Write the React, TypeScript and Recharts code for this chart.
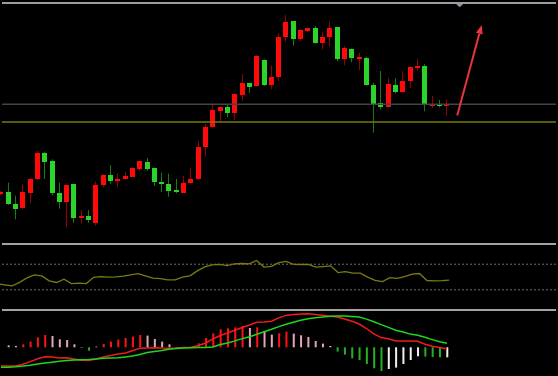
import React from 'react';
import { ComposedChart, Bar, Line, XAxis, YAxis, ReferenceLine, ReferenceDot, Cell } from 'recharts';

// ---------- data ----------
const N_SLOTS = 77;

const opens = [3049.3, 3051, 3039.3, 3035, 3050, 3064.3, 3090, 3081.7, 3049.7, 3040.7, 3058.7, 3025.7, 3027, 3020, 3057.7, 3068, 3062, 3064, 3066.3, 3074.3, 3081.3, 3075, 3061.3, 3058.7, 3053, 3050.3, 3060, 3063.7, 3095.7, 3116, 3132, 3135.7, 3130.3, 3148.3, 3159.7, 3156.7, 3183, 3157.7, 3166, 3206, 3221.7, 3204, 3212.3, 3215, 3200.3, 3206, 3215.7, 3183.7, 3194.3, 3184.3, 3185.3, 3157.7, 3140.3, 3136, 3158.3, 3150.7, 3161.7, 3175.3, 3177, 3138.3, 3139, 3137];
const closes = [3051.3, 3038.7, 3034.3, 3050.7, 3064.3, 3089.7, 3081.3, 3049.7, 3041.3, 3058, 3025.3, 3027, 3023, 3058, 3068, 3061.7, 3064.3, 3066.7, 3075.3, 3081.7, 3074.3, 3060.7, 3059, 3052, 3050.7, 3060.3, 3064, 3096, 3116, 3133, 3136, 3130.3, 3149.3, 3159.7, 3156.3, 3187, 3158, 3165.7, 3206.3, 3221, 3204.3, 3212.7, 3215.3, 3200.3, 3206.3, 3215.3, 3183.7, 3194.7, 3185, 3185.7, 3157.7, 3139, 3135.7, 3159, 3150.7, 3162, 3176.3, 3177, 3137.7, 3139.3, 3137, 3139];
const highs = [3052, 3060.3, 3047.3, 3058, 3064.7, 3092, 3091, 3083.7, 3060.3, 3058.5, 3059, 3033, 3033, 3061.3, 3068.5, 3077.7, 3069.7, 3071, 3075.7, 3082, 3085, 3075.5, 3070.3, 3069.3, 3064.3, 3067, 3074.7, 3102, 3119, 3139.7, 3136.5, 3139, 3149.7, 3169, 3160, 3188, 3183.5, 3177.3, 3209.7, 3228, 3222, 3213, 3215.7, 3217, 3210.7, 3221.3, 3216, 3197, 3194.7, 3190.3, 3186.3, 3160.3, 3172, 3165, 3164.7, 3172, 3176.7, 3184, 3178.7, 3147, 3143, 3143.7];
const lows = [3048, 3038, 3023.7, 3034.5, 3039.7, 3063, 3064, 3047.7, 3034.3, 3015.7, 3020.3, 3019.3, 3020.3, 3017.3, 3056, 3059.3, 3056, 3063.5, 3066, 3072.3, 3072.3, 3057.3, 3051, 3046.3, 3049.7, 3050, 3059.5, 3063.5, 3086.3, 3115.5, 3121, 3125.7, 3123, 3142.3, 3150.3, 3156.3, 3157, 3153.7, 3162, 3201.3, 3197.3, 3201.7, 3210.7, 3199.3, 3193.7, 3196.3, 3181.7, 3177.7, 3180.7, 3173, 3157.3, 3110.3, 3133.7, 3135.5, 3149.7, 3150.3, 3155, 3172, 3131.7, 3134.7, 3135.7, 3127.3];

const levelGray = 3138.8;
const levelOlive = 3121;
const arrowFrom = { x: 62.41, y: 3127.5 };
const arrowTo = { x: 65.75, y: 3218 };
const markerPos = { x: 62.74, y: 3238 };

const rsi = [39.3, 37.8, 36.2, 41.7, 48.7, 53.3, 51.8, 44.0, 41.4, 46.7, 39.8, 40.4, 39.8, 49.5, 50.7, 49.8, 50.2, 51.5, 53.3, 55.4, 51.8, 48.2, 47.6, 45.6, 45.6, 49.8, 51.8, 59.6, 65.8, 68.9, 69.7, 67.7, 70.5, 71.1, 70.5, 75.9, 65.5, 66.6, 72.5, 74.4, 69.7, 69.5, 69.7, 65.3, 66.3, 67.4, 56.9, 58.5, 56.0, 56.0, 49.8, 44.8, 42.8, 49.0, 47.9, 50.7, 54.4, 55.4, 44.5, 44.0, 44.3, 45.1];
const rsiLevels = [70, 30];

const dif = [-18.7, -18.7, -18.7, -16.9, -14.3, -11.4, -9.4, -9.7, -10.7, -10.4, -11.8, -12.9, -13.2, -11.7, -9.7, -8.2, -6.7, -5.6, -3.4, -1, -0.7, -0.4, -0.8, -0.9, -0.7, -0.3, 0, 1.8, 4.3, 8.4, 11.8, 14.3, 17.1, 19.8, 22.3, 25, 25.3, 26.1, 29.4, 31.9, 32.9, 33.3, 33.5, 32.9, 32, 31.1, 30.3, 28.3, 26, 23.3, 18.8, 13.5, 9.7, 8.5, 6.4, 6.3, 6.3, 6, 3.1, 1.1, -0.3, -1.4];
const dea = [-20, -19.9, -19.5, -18.8, -17.9, -16.7, -15.8, -14.9, -14, -13.2, -12.8, -12.4, -12.2, -11.6, -11, -10.7, -10.4, -9.6, -8.7, -7.2, -5.3, -4.1, -3.1, -1.9, -1.3, -0.6, -0.5, -0.3, -0.1, 0.4, 2.8, 4.4, 6.4, 8.7, 10.5, 13, 15.5, 18, 20.7, 23.1, 25.1, 27, 28.5, 29.5, 30.4, 31.1, 31.3, 31.3, 30.8, 30.3, 28.2, 25.6, 22.7, 19.9, 17.1, 15.2, 13.2, 12.1, 10, 7.7, 5.5, 4];
const hist = [null, 2, 1.3, 3, 5.7, 10, 12.3, 11.3, 8, 7.3, 3, -0.7, -3.3, 0.7, 3.3, 5.7, 7.7, 9.3, 10.7, 12.3, 11.7, 8.3, 5.7, 3, -0.6, -0.6, -0.6, 4, 9.3, 14, 18, 19, 20, 21.3, 19.3, 20, 16.3, 12.7, 14, 15.7, 13.7, 12, 10.3, 6.3, 3.7, 1.3, -4.3, -7.3, -11, -12.7, -16.7, -21, -23.7, -21.7, -20.3, -16.7, -12.7, -9, -9.3, -9.7, -10, -10];
const histKind = ['p', 'p', 'p', 'r', 'r', 'r', 'r', 'p', 'p', 'p', 'p', 'g', 'g', 'p', 'r', 'r', 'r', 'r', 'r', 'r', 'p', 'p', 'p', 'p', 'g', 'g', 'g', 'r', 'r', 'r', 'r', 'r', 'r', 'r', 'p', 'r', 'p', 'p', 'r', 'r', 'p', 'p', 'p', 'p', 'p', 'p', 'g', 'g', 'g', 'g', 'g', 'g', 'g', 'w', 'w', 'w', 'w', 'w', 'g', 'g', 'g', 'w'];

// ---------- tables ----------
const slots = Array.from({ length: N_SLOTS }, (_, i) => i);
const priceData = slots.map((i) =>
  i < opens.length
    ? { i, open: opens[i], close: closes[i], high: highs[i], low: lows[i], range: [lows[i], highs[i]] }
    : { i, range: null }
);
const rsiData = slots.map((i) => ({ i, rsi: i < rsi.length ? rsi[i] : null }));
const macdData = slots.map((i) => ({
  i,
  dif: i < dif.length ? dif[i] : null,
  dea: i < dea.length ? dea[i] : null,
  hist: i < hist.length ? hist[i] : null,
  kind: i < histKind.length ? histKind[i] : 'p',
}));

// ---------- style ----------
const W = 566;
const MARGIN = { top: 0, bottom: 0, left: 0.345, right: 2.755 };
const X_FROM = 0.137;
const X_TO = 75.91;
const KIND_COLOR: Record<string, string> = { r: '#ff1414', p: '#e3a6b4', g: '#22b322', w: '#f0f0f0' };

function Candle(props: any) {
  const { x, y, width, height, payload } = props;
  if (!payload || payload.open == null || x == null || y == null) return null;
  const { open, close, high, low } = payload;
  const top = Math.min(y, y + height);
  const h = Math.abs(height);
  const k = high > low ? h / (high - low) : 0;
  const cx = x + width / 2;
  const bx = Math.round(cx - 2.5);
  const wx = bx + 2.5;
  const bt = Math.round(top + (high - Math.max(open, close)) * k);
  let bb = Math.round(top + (high - Math.min(open, close)) * k);
  if (bb - bt < 2) bb = bt + 2;
  const up = close >= open;
  return (
    <g>
      <line x1={wx} x2={wx} y1={top} y2={top + h} stroke={up ? '#9a0000' : '#137f13'} strokeWidth={1} />
      <rect x={bx} y={bt} width={5} height={bb - bt} fill={up ? '#ff0a0a' : '#2bd42b'} />
    </g>
  );
}

function Arrow(props: any) {
  const { x1, y1, x2, y2 } = props;
  if ([x1, y1, x2, y2].some((v) => v == null || isNaN(v))) return null;
  const dx = x2 - x1;
  const dy = y2 - y1;
  const len = Math.sqrt(dx * dx + dy * dy) || 1;
  const ux = dx / len;
  const uy = dy / len;
  const hl = 9;
  const hw = 3.5;
  const bxp = x2 - ux * hl;
  const byp = y2 - uy * hl;
  const px = -uy;
  const py = ux;
  return (
    <g>
      <line x1={x1} y1={y1} x2={bxp} y2={byp} stroke="#e8363c" strokeWidth={2} />
      <polygon
        points={`${x2},${y2} ${bxp + px * hw},${byp + py * hw} ${bxp - px * hw},${byp - py * hw}`}
        fill="#e8363c"
      />
    </g>
  );
}

function Marker(props: any) {
  const { cx, cy } = props;
  if (cx == null || cy == null) return null;
  return <polygon points={`${cx - 4.3},${cy - 1.7} ${cx + 4.3},${cy - 1.7} ${cx},${cy + 2.3}`} fill="#8a9aab" />;
}

const sep = (top: number, h: number, color: string): React.CSSProperties => ({
  position: 'absolute',
  left: 2,
  top,
  width: 554,
  height: h,
  background: color,
});

export default function App() {
  return (
    <div
      style={{
        position: 'absolute',
        left: 0,
        top: 0,
        width: 558,
        height: 376,
        background: '#000',
        overflow: 'hidden',
        fontFamily: 'DejaVu Sans, sans-serif',
      }}
    >
      <div style={sep(2, 1.5, '#9c9c9c')} />
      <div style={sep(243, 2, '#a3a3a3')} />
      <div style={sep(309, 2, '#a3a3a3')} />

      {/* price panel */}
      <div style={{ position: 'absolute', left: -3, top: 0 }}>
        <ComposedChart width={W} height={243} data={priceData} margin={MARGIN}>
          <XAxis dataKey="i" hide />
          <XAxis xAxisId="n" type="number" dataKey="i" domain={[-0.5, 76.5]} allowDataOverflow hide />
          <YAxis hide domain={[3000, 3243]} allowDataOverflow />
          <ReferenceLine
            xAxisId="n"
            segment={[{ x: X_FROM, y: levelGray }, { x: X_TO, y: levelGray }]}
            stroke="#40454d"
            strokeWidth={1.6}
          />
          <ReferenceLine
            xAxisId="n"
            segment={[{ x: X_FROM, y: levelOlive }, { x: X_TO, y: levelOlive }]}
            stroke="#7a7a08"
            strokeWidth={1.3}
          />
          <Bar dataKey="range" barSize={5} shape={Candle} isAnimationActive={false} />
          <ReferenceLine xAxisId="n" segment={[arrowFrom, arrowTo]} shape={Arrow} />
          <ReferenceDot xAxisId="n" x={markerPos.x} y={markerPos.y} shape={Marker} />
        </ComposedChart>
      </div>

      {/* oscillator panel */}
      <div style={{ position: 'absolute', left: -3, top: 245 }}>
        <ComposedChart width={W} height={64} data={rsiData} margin={MARGIN}>
          <XAxis dataKey="i" hide />
          <XAxis xAxisId="n" type="number" dataKey="i" domain={[-0.5, 76.5]} allowDataOverflow hide />
          <YAxis hide domain={[0, 100]} allowDataOverflow />
          {rsiLevels.map((v) => (
            <ReferenceLine
              key={v}
              xAxisId="n"
              segment={[{ x: X_FROM, y: v }, { x: X_TO, y: v }]}
              stroke="#6e6e6e"
              strokeDasharray="2 2"
              strokeWidth={1}
            />
          ))}
          <Line dataKey="rsi" stroke="#7b7b12" strokeWidth={1.3} dot={false} isAnimationActive={false} />
        </ComposedChart>
      </div>

      {/* MACD panel */}
      <div style={{ position: 'absolute', left: -3, top: 311 }}>
        <ComposedChart width={W} height={65} data={macdData} margin={MARGIN}>
          <XAxis dataKey="i" hide />
          <YAxis hide domain={[-28.7, 36.3]} allowDataOverflow />
          <Bar dataKey="hist" barSize={2} isAnimationActive={false}>
            {macdData.map((d) => (
              <Cell key={d.i} fill={KIND_COLOR[d.kind]} />
            ))}
          </Bar>
          <Line dataKey="dif" stroke="#ee1c1c" strokeWidth={1.5} dot={false} isAnimationActive={false} />
          <Line dataKey="dea" stroke="#1cd81c" strokeWidth={1.5} dot={false} isAnimationActive={false} />
        </ComposedChart>
      </div>
    </div>
  );
}
